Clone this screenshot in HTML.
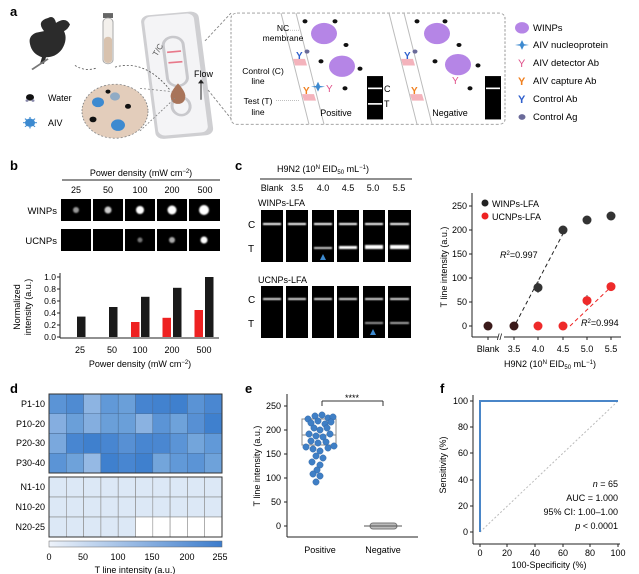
<!DOCTYPE html>
<html><head><meta charset="utf-8"><style>
html,body{margin:0;padding:0;background:#fff}
svg{display:block;font-family:"Liberation Sans",Arial,sans-serif}
</style></head><body>
<svg width="639" height="574" viewBox="0 0 639 574" xmlns="http://www.w3.org/2000/svg">
<defs>
<linearGradient id="cb" x1="0" x2="1"><stop offset="0" stop-color="#eef3fa"/><stop offset="1" stop-color="#3c7ccc"/></linearGradient>
<filter id="bl"><feGaussianBlur stdDeviation="0.8"/></filter>
</defs>

<!-- ===== Panel a ===== -->
<text x="10" y="16" font-size="13" font-weight="bold">a</text>
<g transform="scale(1,0.818)">
<path d="M44,38 q-8,-12 4,-16 q6,-4 8,6 q10,-8 14,2 q-2,6 -6,8 q4,10 -2,22 q-6,10 -16,10 l-2,8 h-4 l2,-8 q-10,-4 -12,-16 q-2,-10 6,-14 z" fill="#2b2b2b"/>
<line x1="32" y1="85" x2="48" y2="72" stroke="#777" stroke-width="2"/>
<rect x="103" y="16" width="10" height="6" fill="#666"/>
<rect x="103" y="22" width="10" height="56" rx="5" fill="#f3f0ec" stroke="#aaa"/>
<rect x="104" y="45" width="8" height="32" rx="4" fill="#d8c2ae"/>
<path d="M75,80 q10,8 22,3" fill="none" stroke="#555" stroke-dasharray="2,2"/>
<g transform="rotate(-6 177 91)">
<rect x="148" y="16" width="58" height="152" rx="8" fill="#cfcfd2"/>
<rect x="151" y="18" width="50" height="146" rx="7" fill="#f4f4f6"/>
<rect x="167" y="45" width="20" height="60" rx="10" fill="none" stroke="#c8c8cc" stroke-width="3"/>
<rect x="170" y="62" width="14" height="2" fill="#e8788a"/>
<rect x="170" y="75" width="14" height="2" fill="#e8788a"/>
<ellipse cx="177" cy="130" rx="9" ry="11" fill="none" stroke="#c8c8cc" stroke-width="3"/>
</g>
<path d="M178,102 q-9,12 -7,18 a7,7 0 0 0 14,0 q2,-6 -7,-18z" fill="#a8745a"/>
<path d="M115,82 q30,-10 55,28" fill="none" stroke="#555" stroke-dasharray="2,2"/>
<line x1="201" y1="122" x2="201" y2="100" stroke="#222"/><path d="M198,102 l3,-5 l3,5z" fill="#222"/>
<circle cx="115" cy="136" r="33" fill="#e3cdbb" stroke="#888" stroke-dasharray="2,2"/>
<line x1="140" y1="108" x2="172" y2="112" stroke="#888" stroke-dasharray="2,2"/>
<line x1="140" y1="160" x2="175" y2="120" stroke="#888" stroke-dasharray="2,2"/>
<g fill="#3d8ad0">
<circle cx="98" cy="125" r="6"/><circle cx="118" cy="153" r="7"/><circle cx="115" cy="118" r="5" opacity="0.5"/>
</g>
<circle cx="93" cy="146" r="3.5" fill="#111"/><circle cx="128" cy="130" r="3" fill="#111"/><circle cx="108" cy="112" r="2.5" fill="#111"/>
<circle cx="30" cy="119" r="4" fill="#111"/><circle cx="27" cy="123" r="1.5" fill="#88a"/><circle cx="33" cy="123" r="1.5" fill="#88a"/>
<circle cx="30" cy="150" r="5" fill="#3d8ad0"/>
<g stroke="#3d8ad0" stroke-width="1.2"><line x1="23" y1="150" x2="37" y2="150"/><line x1="30" y1="143" x2="30" y2="157"/><line x1="25" y1="145" x2="35" y2="155"/><line x1="35" y1="145" x2="25" y2="155"/></g>
<line x1="205" y1="50" x2="231" y2="16" stroke="#888" stroke-dasharray="3,2"/>
<line x1="208" y1="110" x2="231" y2="145" stroke="#888" stroke-dasharray="3,2"/>
<rect x="231" y="16" width="274" height="136" rx="6" fill="none" stroke="#999" stroke-dasharray="3,2"/>
<line x1="282" y1="37" x2="300" y2="37" stroke="#aaa" stroke-dasharray="1,1"/>
<line x1="276" y1="123" x2="300" y2="123" stroke="#aaa" stroke-dasharray="1,1"/>
<line x1="281" y1="16" x2="309" y2="152" stroke="#bbb"/>
<line x1="296" y1="16" x2="324" y2="152" stroke="#bbb"/>
<polygon points="293,72 305,72 307,80 295,80" fill="#f4b3bc"/>
<polygon points="302,115 314,115 316,123 304,123" fill="#f4b3bc"/>
<circle cx="324" cy="41" r="13" fill="#b585e6"/>
<circle cx="342" cy="81" r="13" fill="#b585e6"/>
<circle cx="307" cy="63" r="2.5" fill="#6a6a99"/>
<path d="M318,100 l2,5 l5,1 l-5,1 l-2,5 l-2,-5 l-5,-1 l5,-1z" fill="#3d8ad0"/>
<g fill="#111"><circle cx="305" cy="26" r="2.5"/><circle cx="335" cy="26" r="2.5"/><circle cx="346" cy="55" r="2.5"/><circle cx="321" cy="75" r="2.5"/><circle cx="360" cy="84" r="2.5"/><circle cx="345" cy="108" r="2.5"/></g>
<rect x="367" y="93" width="16" height="53" fill="#000"/>
<rect x="368" y="107" width="14" height="2" fill="#fff"/><rect x="368" y="126" width="14" height="2" fill="#fff"/>
<line x1="389" y1="16" x2="417" y2="152" stroke="#bbb"/>
<line x1="404" y1="16" x2="432" y2="152" stroke="#bbb"/>
<polygon points="401,72 413,72 415,80 403,80" fill="#f4b3bc"/>
<polygon points="410,115 422,115 424,123 412,123" fill="#f4b3bc"/>
<circle cx="437" cy="41" r="13" fill="#b585e6"/>
<circle cx="458" cy="79" r="13" fill="#b585e6"/>
<circle cx="415" cy="63" r="2.5" fill="#6a6a99"/>
<g fill="#111"><circle cx="417" cy="26" r="2.5"/><circle cx="445" cy="26" r="2.5"/><circle cx="459" cy="55" r="2.5"/><circle cx="435" cy="75" r="2.5"/><circle cx="478" cy="80" r="2.5"/><circle cx="470" cy="108" r="2.5"/></g>
<rect x="485" y="93" width="16" height="53" fill="#000"/>
<rect x="486" y="107" width="14" height="2" fill="#fff"/>
<circle cx="522" cy="34" r="7" fill="#b585e6"/>
<path d="M522,49 l2,5 l5,1 l-5,1 l-2,5 l-2,-5 l-5,-1 l5,-1z" fill="#3d8ad0"/>
<circle cx="522" cy="143" r="3.5" fill="#6a6a99"/>
</g>
<text x="156" y="55" font-size="8" fill="#555" transform="rotate(-60 158 55)">T/C</text>
<text x="194" y="77" font-size="9">Flow</text>
<text x="48" y="101" font-size="9">Water</text>
<text x="48" y="126" font-size="9">AIV</text>
<text x="283" y="31" font-size="8.5" text-anchor="middle">NC</text>
<text x="283" y="41" font-size="8.5" text-anchor="middle">membrane</text>
<text x="263" y="74" font-size="8.5" text-anchor="middle">Control (C)</text>
<text x="258" y="84" font-size="8.5" text-anchor="middle">line</text>
<text x="258" y="104" font-size="8.5" text-anchor="middle">Test (T)</text>
<text x="258" y="115" font-size="8.5" text-anchor="middle">line</text>
<text x="296" y="59" font-size="10" fill="#2f5fcc" font-weight="bold">Y</text>
<text x="303" y="94" font-size="10" fill="#f08020" font-weight="bold">Y</text>
<text x="326" y="92" font-size="10" fill="#e0508a">Y</text>
<text x="384" y="92" font-size="9">C</text><text x="384" y="107" font-size="9">T</text>
<text x="336" y="116" font-size="9" text-anchor="middle">Positive</text>
<text x="404" y="59" font-size="10" fill="#2f5fcc" font-weight="bold">Y</text>
<text x="411" y="94" font-size="10" fill="#f08020" font-weight="bold">Y</text>
<text x="452" y="84" font-size="10" fill="#e0508a">Y</text>
<text x="450" y="116" font-size="9" text-anchor="middle">Negative</text>
<text x="533" y="31" font-size="9.5">WINPs</text>
<text x="533" y="48" font-size="9.5">AIV nucleoprotein</text>
<text x="518" y="67" font-size="11" fill="#e0508a">Y</text><text x="533" y="66" font-size="9.5">AIV detector Ab</text>
<text x="518" y="85" font-size="11" fill="#f08020" font-weight="bold">Y</text><text x="533" y="84" font-size="9.5">AIV capture Ab</text>
<text x="518" y="103" font-size="11" fill="#2f5fcc" font-weight="bold">Y</text><text x="533" y="102" font-size="9.5">Control Ab</text>
<text x="533" y="120" font-size="9.5">Control Ag</text>

<!-- ===== Panel b ===== -->
<text x="10" y="170" font-size="13" font-weight="bold">b</text>
<text x="141" y="176" font-size="9" text-anchor="middle">Power density (mW cm<tspan font-size="6" dy="-3">−2</tspan><tspan dy="3">)</tspan></text>
<line x1="62" y1="180" x2="220" y2="180" stroke="#222"/>
<g font-size="9" text-anchor="middle">
<text x="76" y="193">25</text><text x="108" y="193">50</text><text x="140" y="193">100</text><text x="172" y="193">200</text><text x="205" y="193">500</text>
</g>
<text x="57" y="214" font-size="9.5" text-anchor="end">WINPs</text>
<text x="57" y="244" font-size="9.5" text-anchor="end">UCNPs</text>
<g fill="#000">
<rect x="61" y="199" width="30" height="22"/><rect x="93" y="199" width="30" height="22"/><rect x="125" y="199" width="30" height="22"/><rect x="157" y="199" width="30" height="22"/><rect x="189" y="199" width="31" height="22"/>
<rect x="61" y="229" width="30" height="22"/><rect x="93" y="229" width="30" height="22"/><rect x="125" y="229" width="30" height="22"/><rect x="157" y="229" width="30" height="22"/><rect x="189" y="229" width="31" height="22"/>
</g>
<g filter="url(#bl)">
<circle cx="76" cy="210" r="3" fill="#999"/><circle cx="108" cy="210" r="3.5" fill="#ccc"/><circle cx="140" cy="210" r="4" fill="#fff"/><circle cx="172" cy="210" r="4.5" fill="#fff"/><circle cx="204" cy="210" r="5" fill="#fff"/>
<circle cx="140" cy="240" r="2.5" fill="#777"/><circle cx="172" cy="240" r="3" fill="#aaa"/><circle cx="204" cy="240" r="3.5" fill="#fff"/>
</g>
<text x="20" y="307" font-size="9" text-anchor="middle" transform="rotate(-90 20 307)">Normalized</text>
<text x="31" y="307" font-size="9" text-anchor="middle" transform="rotate(-90 31 307)">intensity (a.u.)</text>
<line x1="60" y1="273" x2="60" y2="338" stroke="#222"/>
<line x1="60" y1="338" x2="219" y2="338" stroke="#222"/>
<g font-size="8.5" text-anchor="end">
<text x="56" y="340">0.0</text><text x="56" y="328">0.2</text><text x="56" y="316">0.4</text><text x="56" y="304">0.6</text><text x="56" y="292">0.8</text><text x="56" y="280">1.0</text>
</g>
<g stroke="#222"><line x1="57" y1="337" x2="60" y2="337"/><line x1="57" y1="325" x2="60" y2="325"/><line x1="57" y1="313" x2="60" y2="313"/><line x1="57" y1="301" x2="60" y2="301"/><line x1="57" y1="289" x2="60" y2="289"/><line x1="57" y1="277" x2="60" y2="277"/></g>
<g fill="#1a1a1a">
<rect x="77" y="316.6" width="8.5" height="20.4"/>
<rect x="109" y="307" width="8.5" height="30"/>
<rect x="141" y="296.8" width="8.5" height="40.2"/>
<rect x="173" y="287.8" width="8.5" height="49.2"/>
<rect x="205" y="277" width="8.5" height="60"/>
</g>
<g fill="#ee2222">
<rect x="131" y="322" width="8.5" height="15"/>
<rect x="162.5" y="317.8" width="8.5" height="19.2"/>
<rect x="194.5" y="310" width="8.5" height="27"/>
</g>
<g font-size="9" text-anchor="middle">
<text x="80" y="353">25</text><text x="112" y="353">50</text><text x="140" y="353">100</text><text x="172" y="353">200</text><text x="204" y="353">500</text>
</g>
<text x="140" y="367" font-size="9" text-anchor="middle">Power density (mW cm<tspan font-size="6" dy="-3">−2</tspan><tspan dy="3">)</tspan></text>

<!-- ===== Panel c ===== -->
<text x="235" y="170" font-size="13" font-weight="bold">c</text>
<text x="323" y="172" font-size="9" text-anchor="middle">H9N2 (10<tspan font-size="6" dy="-3">N</tspan><tspan dy="3"> EID</tspan><tspan font-size="6" dy="2">50</tspan><tspan dy="-2"> mL</tspan><tspan font-size="6" dy="-3">−1</tspan><tspan dy="3">)</tspan></text>
<line x1="260" y1="179" x2="412" y2="179" stroke="#222"/>
<g font-size="9" text-anchor="middle">
<text x="272" y="191">Blank</text><text x="297" y="191">3.5</text><text x="323" y="191">4.0</text><text x="348" y="191">4.5</text><text x="373" y="191">5.0</text><text x="399" y="191">5.5</text>
</g>
<text x="258" y="206" font-size="9">WINPs-LFA</text>
<g fill="#000">
<rect x="261" y="210" width="22" height="52"/><rect x="286" y="210" width="22" height="52"/><rect x="312" y="210" width="22" height="52"/><rect x="337" y="210" width="22" height="52"/><rect x="363" y="210" width="22" height="52"/><rect x="388" y="210" width="23" height="52"/>
</g>
<g fill="#fff" filter="url(#bl)">
<rect x="263" y="223" width="18" height="2"/><rect x="288" y="223" width="18" height="2"/><rect x="314" y="223" width="18" height="2"/><rect x="339" y="223" width="18" height="2"/><rect x="365" y="223" width="18" height="2"/><rect x="390" y="223" width="19" height="2"/>
<rect x="314" y="247" width="18" height="2" fill="#ccc"/><rect x="339" y="246" width="18" height="3"/><rect x="365" y="245" width="18" height="4"/><rect x="390" y="245" width="19" height="4"/>
</g>
<path d="M320,260 l3,-6 l3,6z" fill="#3d8ad0"/>
<text x="248" y="228" font-size="10">C</text><text x="248" y="252" font-size="10">T</text>
<text x="258" y="283" font-size="9">UCNPs-LFA</text>
<g fill="#000">
<rect x="261" y="286" width="22" height="52"/><rect x="286" y="286" width="22" height="52"/><rect x="312" y="286" width="22" height="52"/><rect x="337" y="286" width="22" height="52"/><rect x="363" y="286" width="22" height="52"/><rect x="388" y="286" width="23" height="52"/>
</g>
<g fill="#ddd" filter="url(#bl)">
<rect x="263" y="298" width="18" height="2"/><rect x="288" y="298" width="18" height="2"/><rect x="314" y="298" width="18" height="2"/><rect x="339" y="298" width="18" height="2"/><rect x="365" y="298" width="18" height="2"/><rect x="390" y="298" width="19" height="2"/>
<rect x="365" y="322" width="18" height="2" fill="#999"/><rect x="390" y="322" width="19" height="2" fill="#aaa"/>
</g>
<path d="M370,335 l3,-6 l3,6z" fill="#3d8ad0"/>
<text x="248" y="303" font-size="10">C</text><text x="248" y="327" font-size="10">T</text>
<!-- scatter -->
<line x1="472" y1="193" x2="472" y2="337" stroke="#222"/>
<line x1="472" y1="337" x2="498" y2="337" stroke="#222"/>
<line x1="504" y1="337" x2="621" y2="337" stroke="#222"/>
<text x="497" y="340" font-size="9">//</text>
<g font-size="9" text-anchor="end">
<text x="467" y="209">250</text><text x="467" y="233">200</text><text x="467" y="257">150</text><text x="467" y="281">100</text><text x="467" y="305">50</text><text x="467" y="329">0</text>
</g>
<g stroke="#222"><line x1="469" y1="206" x2="472" y2="206"/><line x1="469" y1="230" x2="472" y2="230"/><line x1="469" y1="254" x2="472" y2="254"/><line x1="469" y1="278" x2="472" y2="278"/><line x1="469" y1="302" x2="472" y2="302"/><line x1="469" y1="326" x2="472" y2="326"/>
<line x1="488" y1="337" x2="488" y2="340"/><line x1="514" y1="337" x2="514" y2="340"/><line x1="538" y1="337" x2="538" y2="340"/><line x1="563" y1="337" x2="563" y2="340"/><line x1="587" y1="337" x2="587" y2="340"/><line x1="611" y1="337" x2="611" y2="340"/></g>
<g font-size="9" text-anchor="middle">
<text x="488" y="352">Blank</text><text x="514" y="352">3.5</text><text x="538" y="352">4.0</text><text x="563" y="352">4.5</text><text x="587" y="352">5.0</text><text x="611" y="352">5.5</text>
</g>
<text x="550" y="367" font-size="9" text-anchor="middle">H9N2 (10<tspan font-size="6" dy="-3">N</tspan><tspan dy="3"> EID</tspan><tspan font-size="6" dy="2">50</tspan><tspan dy="-2"> mL</tspan><tspan font-size="6" dy="-3">−1</tspan><tspan dy="3">)</tspan></text>
<text x="447" y="267" font-size="9" text-anchor="middle" transform="rotate(-90 447 267)">T line intensity (a.u.)</text>
<line x1="516" y1="323" x2="566" y2="228" stroke="#222" stroke-dasharray="4,3"/>
<line x1="570" y1="326" x2="613" y2="285" stroke="#e22" stroke-dasharray="4,3"/>
<g stroke="#555"><line x1="538" y1="293" x2="538" y2="281"/><line x1="563" y1="233" x2="563" y2="226"/><line x1="587" y1="306" x2="587" y2="295"/></g>
<g fill="#333">
<circle cx="488" cy="326" r="4.5" fill="#3a1a1a"/><circle cx="514" cy="326" r="4.5" fill="#3a1a1a"/><circle cx="538" cy="287.6" r="4.5"/><circle cx="563" cy="230" r="4.5"/><circle cx="587" cy="220" r="4.5"/><circle cx="611" cy="216" r="4.5"/>
</g>
<g fill="#ee2a2a">
<circle cx="538" cy="326" r="4.5"/><circle cx="563" cy="326" r="4.5"/><circle cx="587" cy="300.6" r="4.5"/><circle cx="611" cy="286.6" r="4.5"/>
</g>
<circle cx="485" cy="203" r="3.5" fill="#222"/><text x="492" y="207" font-size="9">WINPs-LFA</text>
<circle cx="485" cy="216" r="3.5" fill="#e22"/><text x="492" y="220" font-size="9">UCNPs-LFA</text>
<text x="500" y="258" font-size="9"><tspan font-style="italic">R</tspan><tspan font-size="6" dy="-3">2</tspan><tspan dy="3">=0.997</tspan></text>
<text x="581" y="326" font-size="9"><tspan font-style="italic">R</tspan><tspan font-size="6" dy="-3">2</tspan><tspan dy="3">=0.994</tspan></text>

<!-- ===== Panel d ===== -->
<text x="10" y="393" font-size="13" font-weight="bold">d</text>
<g stroke="#4a6c94" stroke-width="0.5">
<rect x="49" y="394" width="17.3" height="19.75" fill="#5b94d6"/><rect x="66.3" y="394" width="17.3" height="19.75" fill="#4f8bd2"/><rect x="83.6" y="394" width="17.3" height="19.75" fill="#8db4e2"/><rect x="100.9" y="394" width="17.3" height="19.75" fill="#6199d8"/><rect x="118.2" y="394" width="17.3" height="19.75" fill="#6a9fd9"/><rect x="135.5" y="394" width="17.3" height="19.75" fill="#4684d0"/><rect x="152.8" y="394" width="17.3" height="19.75" fill="#4282cf"/><rect x="170.1" y="394" width="17.3" height="19.75" fill="#3f80ce"/><rect x="187.4" y="394" width="17.3" height="19.75" fill="#5a93d5"/><rect x="204.7" y="394" width="17.3" height="19.75" fill="#4a87d1"/>
<rect x="49" y="413.75" width="17.3" height="19.75" fill="#85aee0"/><rect x="66.3" y="413.75" width="17.3" height="19.75" fill="#6a9fd9"/><rect x="83.6" y="413.75" width="17.3" height="19.75" fill="#84aedf"/><rect x="100.9" y="413.75" width="17.3" height="19.75" fill="#6a9fd9"/><rect x="118.2" y="413.75" width="17.3" height="19.75" fill="#6a9fd9"/><rect x="135.5" y="413.75" width="17.3" height="19.75" fill="#8ab2e1"/><rect x="152.8" y="413.75" width="17.3" height="19.75" fill="#5b94d6"/><rect x="170.1" y="413.75" width="17.3" height="19.75" fill="#6ea2da"/><rect x="187.4" y="413.75" width="17.3" height="19.75" fill="#5790d4"/><rect x="204.7" y="413.75" width="17.3" height="19.75" fill="#3f80ce"/>
<rect x="49" y="433.5" width="17.3" height="19.75" fill="#7aa8dd"/><rect x="66.3" y="433.5" width="17.3" height="19.75" fill="#4886d1"/><rect x="83.6" y="433.5" width="17.3" height="19.75" fill="#3f80ce"/><rect x="100.9" y="433.5" width="17.3" height="19.75" fill="#4886d1"/><rect x="118.2" y="433.5" width="17.3" height="19.75" fill="#5790d4"/><rect x="135.5" y="433.5" width="17.3" height="19.75" fill="#4886d1"/><rect x="152.8" y="433.5" width="17.3" height="19.75" fill="#4a87d1"/><rect x="170.1" y="433.5" width="17.3" height="19.75" fill="#5b94d6"/><rect x="187.4" y="433.5" width="17.3" height="19.75" fill="#73a5db"/><rect x="204.7" y="433.5" width="17.3" height="19.75" fill="#6199d8"/>
<rect x="49" y="453.25" width="17.3" height="19.75" fill="#5b94d6"/><rect x="66.3" y="453.25" width="17.3" height="19.75" fill="#6ea2da"/><rect x="83.6" y="453.25" width="17.3" height="19.75" fill="#95b9e4"/><rect x="100.9" y="453.25" width="17.3" height="19.75" fill="#3f80ce"/><rect x="118.2" y="453.25" width="17.3" height="19.75" fill="#4886d1"/><rect x="135.5" y="453.25" width="17.3" height="19.75" fill="#3f80ce"/><rect x="152.8" y="453.25" width="17.3" height="19.75" fill="#73a5db"/><rect x="170.1" y="453.25" width="17.3" height="19.75" fill="#6199d8"/><rect x="187.4" y="453.25" width="17.3" height="19.75" fill="#5b94d6"/><rect x="204.7" y="453.25" width="17.3" height="19.75" fill="#6ea2da"/>
</g>
<rect x="49" y="394" width="173" height="79" fill="none" stroke="#333"/>
<g stroke="#888" stroke-width="0.6" fill="#dce8f6">
<rect x="49" y="477" width="17.3" height="20"/><rect x="66.3" y="477" width="17.3" height="20"/><rect x="83.6" y="477" width="17.3" height="20"/><rect x="100.9" y="477" width="17.3" height="20"/><rect x="118.2" y="477" width="17.3" height="20"/><rect x="135.5" y="477" width="17.3" height="20"/><rect x="152.8" y="477" width="17.3" height="20"/><rect x="170.1" y="477" width="17.3" height="20"/><rect x="187.4" y="477" width="17.3" height="20"/><rect x="204.7" y="477" width="17.3" height="20"/>
<rect x="49" y="497" width="17.3" height="20"/><rect x="66.3" y="497" width="17.3" height="20"/><rect x="83.6" y="497" width="17.3" height="20"/><rect x="100.9" y="497" width="17.3" height="20"/><rect x="118.2" y="497" width="17.3" height="20"/><rect x="135.5" y="497" width="17.3" height="20"/><rect x="152.8" y="497" width="17.3" height="20"/><rect x="170.1" y="497" width="17.3" height="20"/><rect x="187.4" y="497" width="17.3" height="20"/><rect x="204.7" y="497" width="17.3" height="20"/>
<rect x="49" y="517" width="17.3" height="20"/><rect x="66.3" y="517" width="17.3" height="20"/><rect x="83.6" y="517" width="17.3" height="20"/><rect x="100.9" y="517" width="17.3" height="20"/><rect x="118.2" y="517" width="17.3" height="20"/>
<rect x="135.5" y="517" width="17.3" height="20" fill="#fff"/><rect x="152.8" y="517" width="17.3" height="20" fill="#fff"/><rect x="170.1" y="517" width="17.3" height="20" fill="#fff"/><rect x="187.4" y="517" width="17.3" height="20" fill="#fff"/><rect x="204.7" y="517" width="17.3" height="20" fill="#fff"/>
</g>
<rect x="49" y="477" width="173" height="60" fill="none" stroke="#333"/>
<g font-size="9" text-anchor="end">
<text x="45" y="407">P1-10</text><text x="45" y="427">P10-20</text><text x="45" y="446">P20-30</text><text x="45" y="466">P30-40</text>
<text x="45" y="490">N1-10</text><text x="45" y="510">N10-20</text><text x="45" y="530">N20-25</text>
</g>
<rect x="49" y="541" width="173" height="6" fill="url(#cb)" stroke="#666" stroke-width="0.5"/>
<g font-size="9" text-anchor="middle">
<text x="49" y="560">0</text><text x="83" y="560">50</text><text x="118" y="560">100</text><text x="152" y="560">150</text><text x="187" y="560">200</text><text x="220" y="560">255</text>
</g>
<text x="135" y="573" font-size="9" text-anchor="middle">T line intensity (a.u.)</text>

<!-- ===== Panel e ===== -->
<text x="245" y="393" font-size="13" font-weight="bold">e</text>
<line x1="287" y1="394" x2="287" y2="537" stroke="#222"/>
<line x1="287" y1="537" x2="418" y2="537" stroke="#222"/>
<g font-size="9" text-anchor="end">
<text x="281" y="409">250</text><text x="281" y="433">200</text><text x="281" y="457">150</text><text x="281" y="481">100</text><text x="281" y="505">50</text><text x="281" y="529">0</text>
</g>
<g stroke="#222"><line x1="284" y1="406" x2="287" y2="406"/><line x1="284" y1="430" x2="287" y2="430"/><line x1="284" y1="454" x2="287" y2="454"/><line x1="284" y1="478" x2="287" y2="478"/><line x1="284" y1="502" x2="287" y2="502"/><line x1="284" y1="526" x2="287" y2="526"/></g>
<text x="260" y="466" font-size="9" text-anchor="middle" transform="rotate(-90 260 466)">T line intensity (a.u.)</text>
<rect x="302" y="419" width="34" height="26" fill="none" stroke="#888"/>
<line x1="302" y1="435" x2="336" y2="435" stroke="#888"/>
<line x1="322" y1="406" x2="322" y2="401" stroke="#333"/><line x1="322" y1="401" x2="383" y2="401" stroke="#333"/><line x1="383" y1="401" x2="383" y2="406" stroke="#333"/>
<text x="352" y="401" font-size="9" text-anchor="middle">****</text>
<g fill="#3f7fc6" stroke="#2d5f9a" stroke-width="0.4">
<circle cx="308" cy="419" r="3.2"/><circle cx="315" cy="416" r="3.2"/><circle cx="322" cy="415" r="3.2"/><circle cx="328" cy="418" r="3.2"/><circle cx="333" cy="417" r="3.2"/><circle cx="311" cy="423" r="3.2"/><circle cx="318" cy="421" r="3.2"/><circle cx="325" cy="424" r="3.2"/><circle cx="331" cy="422" r="3.2"/>
<circle cx="314" cy="428" r="3.2"/><circle cx="320" cy="430" r="3.2"/><circle cx="327" cy="428" r="3.2"/><circle cx="309" cy="434" r="3.2"/><circle cx="316" cy="436" r="3.2"/><circle cx="323" cy="437" r="3.2"/><circle cx="330" cy="434" r="3.2"/>
<circle cx="311" cy="441" r="3.2"/><circle cx="318" cy="443" r="3.2"/><circle cx="326" cy="442" r="3.2"/><circle cx="306" cy="447" r="3.2"/><circle cx="313" cy="449" r="3.2"/><circle cx="320" cy="451" r="3.2"/><circle cx="328" cy="448" r="3.2"/><circle cx="334" cy="446" r="3.2"/>
<circle cx="316" cy="456" r="3.2"/><circle cx="323" cy="458" r="3.2"/><circle cx="312" cy="462" r="3.2"/><circle cx="320" cy="465" r="3.2"/><circle cx="317" cy="470" r="3.2"/><circle cx="313" cy="474" r="3.2"/><circle cx="320" cy="476" r="3.2"/><circle cx="316" cy="482" r="3.2"/>
</g>
<rect x="370" y="523" width="27" height="6" rx="3" fill="#bbb" stroke="#777"/>
<line x1="364" y1="526" x2="402" y2="526" stroke="#555"/>
<text x="320" y="553" font-size="9" text-anchor="middle">Positive</text>
<text x="383" y="553" font-size="9" text-anchor="middle">Negative</text>

<!-- ===== Panel f ===== -->
<text x="440" y="393" font-size="13" font-weight="bold">f</text>
<line x1="473" y1="395" x2="473" y2="544" stroke="#222"/>
<line x1="473" y1="544" x2="620" y2="544" stroke="#222"/>
<g font-size="9" text-anchor="end">
<text x="468" y="404">100</text><text x="468" y="430">80</text><text x="468" y="456">60</text><text x="468" y="483">40</text><text x="468" y="509">20</text><text x="468" y="535">0</text>
</g>
<g stroke="#222"><line x1="470" y1="401" x2="473" y2="401"/><line x1="470" y1="427" x2="473" y2="427"/><line x1="470" y1="453" x2="473" y2="453"/><line x1="470" y1="480" x2="473" y2="480"/><line x1="470" y1="506" x2="473" y2="506"/><line x1="470" y1="532" x2="473" y2="532"/>
<line x1="480" y1="544" x2="480" y2="547"/><line x1="507" y1="544" x2="507" y2="547"/><line x1="535" y1="544" x2="535" y2="547"/><line x1="563" y1="544" x2="563" y2="547"/><line x1="590" y1="544" x2="590" y2="547"/><line x1="618" y1="544" x2="618" y2="547"/></g>
<g font-size="9" text-anchor="middle">
<text x="480" y="556">0</text><text x="507" y="556">20</text><text x="535" y="556">40</text><text x="563" y="556">60</text><text x="590" y="556">80</text><text x="618" y="556">100</text>
</g>
<text x="549" y="568" font-size="9" text-anchor="middle">100-Specificity (%)</text>
<text x="446" y="465" font-size="9" text-anchor="middle" transform="rotate(-90 446 465)">Sensitivity (%)</text>
<line x1="480" y1="532" x2="618" y2="401" stroke="#bbb" stroke-dasharray="2,2"/>
<polyline points="480,532 480,401 618,401" fill="none" stroke="#4a86c8" stroke-width="2"/>
<g font-size="9" text-anchor="end">
<text x="618" y="487"><tspan font-style="italic">n</tspan> = 65</text>
<text x="618" y="501">AUC = 1.000</text>
<text x="618" y="515">95% CI: 1.00–1.00</text>
<text x="618" y="529"><tspan font-style="italic">p</tspan> &lt; 0.0001</text>
</g>
</svg>
</body></html>
